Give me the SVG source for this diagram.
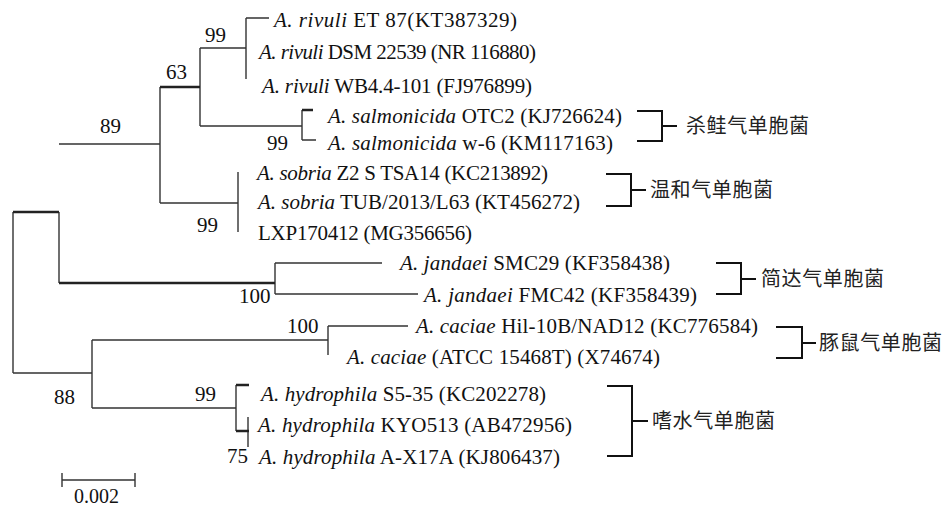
<svg xmlns="http://www.w3.org/2000/svg" width="947" height="508" viewBox="0 0 947 508">
<style>
.t{font-family:"Liberation Serif","Times New Roman",serif;font-size:21px;fill:#111}
.i{font-style:italic}
.n{font-family:"Liberation Serif","Times New Roman",serif;font-size:21px;fill:#111}
.c{font-family:"Noto Sans CJK SC",sans-serif;font-size:20px;fill:#222;letter-spacing:0.6px}
.e{stroke:#333;stroke-width:1.4;fill:none}
.k{stroke:#222;stroke-width:2.6;fill:none}
.b{stroke:#111;stroke-width:2;fill:none}
</style>
<rect width="947" height="508" fill="#fff"/>
<g id="connectors">
<path class="e" d="M13 212V373M13 373H92M92 340V408M59 212V283M59 144H160M160 87V203M200 48V126M200 48H246M246 18V79M246 18H269M200 126H302M302 110V140M302 140H316M160 203H238M238 172V232M275 263V294M275 263H382M275 294H418M92 340H328M328 326V355M328 326H408M92 408H236M236 385V431M248 417V447"/>
<path class="k" d="M13 212H59M59 283H275M160 87H200M302 110H313M236 385H249M236 431H249"/>
<path class="e" d="M62 480H135M62 473V487M135 473V487"/>
</g>
<g id="tree-labels">
<text class="t" x="274" y="27" textLength="243" lengthAdjust="spacing"><tspan class="i">A. rivuli</tspan> ET 87(KT387329)</text>
<text class="t" x="259" y="59" textLength="277" lengthAdjust="spacing"><tspan class="i">A. rivuli</tspan> DSM 22539 (NR 116880)</text>
<text class="t" x="262" y="93" textLength="270" lengthAdjust="spacing"><tspan class="i">A. rivuli</tspan> WB4.4-101 (FJ976899)</text>
<text class="t" x="328" y="123" textLength="294" lengthAdjust="spacing"><tspan class="i">A. salmonicida</tspan> OTC2 (KJ726624)</text>
<text class="t" x="328" y="150" textLength="285" lengthAdjust="spacing"><tspan class="i">A. salmonicida</tspan> w-6 (KM117163)</text>
<text class="t" x="257" y="180" textLength="291" lengthAdjust="spacing"><tspan class="i">A. sobria</tspan> Z2 S TSA14 (KC213892)</text>
<text class="t" x="258" y="209" textLength="322" lengthAdjust="spacing"><tspan class="i">A. sobria</tspan> TUB/2013/L63 (KT456272)</text>
<text class="t" x="258" y="240" textLength="214" lengthAdjust="spacing">LXP170412 (MG356656)</text>
<text class="t" x="400" y="270" textLength="270" lengthAdjust="spacing"><tspan class="i">A. jandaei</tspan> SMC29 (KF358438)</text>
<text class="t" x="424" y="302" textLength="273" lengthAdjust="spacing"><tspan class="i">A. jandaei</tspan> FMC42 (KF358439)</text>
<text class="t" x="416" y="333" textLength="342" lengthAdjust="spacing"><tspan class="i">A. caciae</tspan> Hil-10B/NAD12 (KC776584)</text>
<text class="t" x="347" y="364" textLength="313" lengthAdjust="spacing"><tspan class="i">A. caciae</tspan> (ATCC 15468T) (X74674)</text>
<text class="t" x="261" y="401" textLength="285" lengthAdjust="spacing"><tspan class="i">A. hydrophila</tspan> S5-35 (KC202278)</text>
<text class="t" x="258" y="432" textLength="314" lengthAdjust="spacing"><tspan class="i">A. hydrophila</tspan> KYO513 (AB472956)</text>
<text class="t" x="259" y="464" textLength="301" lengthAdjust="spacing"><tspan class="i">A. hydrophila</tspan> A-X17A (KJ806437)</text>
</g>
<g id="bootstrap">
<text class="n" x="205" y="42">99</text>
<text class="n" x="166" y="79">63</text>
<text class="n" x="100" y="133">89</text>
<text class="n" x="267" y="150">99</text>
<text class="n" x="197" y="232">99</text>
<text class="n" x="239" y="303">100</text>
<text class="n" x="287" y="333">100</text>
<text class="n" x="54" y="404">88</text>
<text class="n" x="195" y="401">99</text>
<text class="n" x="227" y="463">75</text>
<text class="n" x="74" y="503" style="font-size:20px">0.002</text>
</g>
<g id="group-salmonicida">
<path class="b" d="M637 111H662V141H637M662 126H677"/>
<text class="c" x="686" y="133">杀鲑气单胞菌</text>
</g>
<g id="group-sobria">
<path class="b" d="M606 174H631V206H606M631 190H646"/>
<text class="c" x="650" y="197">温和气单胞菌</text>
</g>
<g id="group-jandaei">
<path class="b" d="M716 263H741V294H716M741 279H756"/>
<text class="c" x="761" y="286">简达气单胞菌</text>
</g>
<g id="group-caciae">
<path class="b" d="M776 327H802V358H776M802 343H816"/>
<text class="c" x="819" y="350">豚鼠气单胞菌</text>
</g>
<g id="group-hydrophila">
<path class="b" d="M607 386H632V456H607M632 421H648"/>
<text class="c" x="652" y="428">嗜水气单胞菌</text>
</g>
</svg>
